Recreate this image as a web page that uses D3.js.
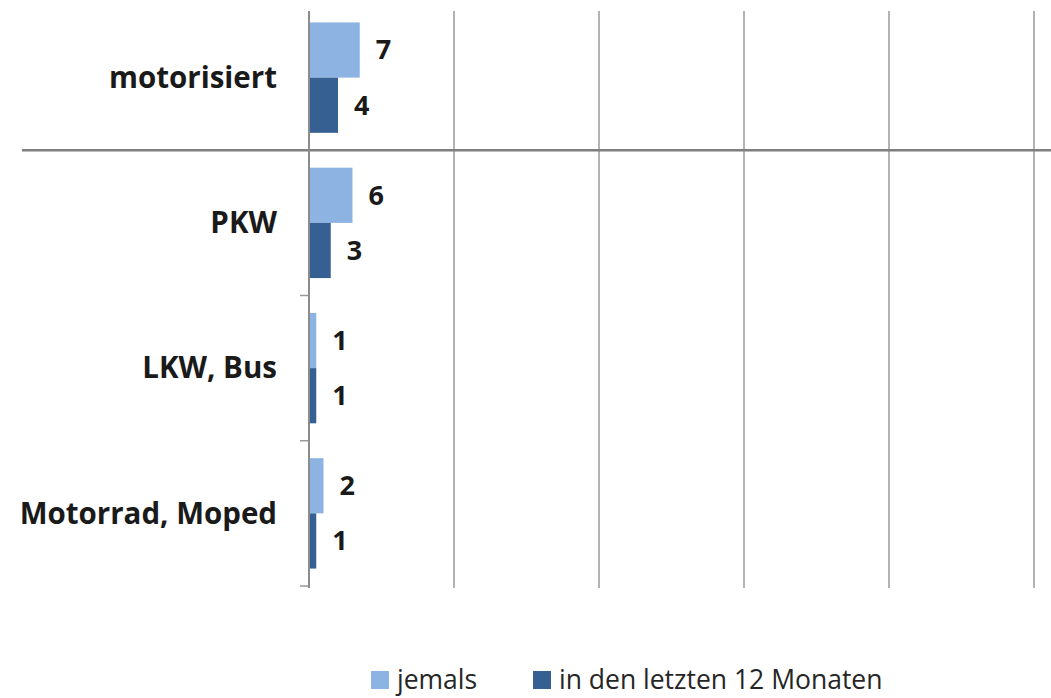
<!DOCTYPE html>
<html>
<head>
<meta charset="utf-8">
<script src="https://cdn.jsdelivr.net/npm/d3@7"></script>
<style>
  body { margin: 0; background: #fff; }
  svg { display: block; font-family: "Open Sans", sans-serif; }
  .cat { font-weight: bold; font-size: 29.5px; fill: #1a1a1a; }
  .value { font-weight: bold; font-size: 27px; fill: #1a1a1a; }
  .legend text { font-size: 26.5px; fill: #262626; }
</style>
</head>
<body>
<svg class="chart"></svg>
<script>
var Width = 1051,
    Height = 698;

// data
var categories = ["motorisiert", "PKW", "LKW, Bus", "Motorrad, Moped"];
var seriesNames = ["jemals", "in den letzten 12 Monaten"];
var jemals = [7, 6, 1, 2];
var letzte12 = [4, 3, 1, 1];
var gridTicks = [20, 40, 60, 80, 100];

var colors = ["#8db3e2", "#376092"];

var chart = d3.select(".chart")
    .attr("width", Width)
    .attr("height", Height);

// x scale (percent), y scale (categories)
var x = d3.scaleLinear()
    .domain([0, 100])
    .range([309, 1034]);

var y = d3.scaleBand()
    .domain(categories)
    .range([5, 586])
    .paddingInner(0.24)
    .paddingOuter(0.12);

var y1 = d3.scaleBand()
    .domain(seriesNames)
    .range([0, y.bandwidth()]);

// gridlines
chart.append("g")
    .selectAll("line")
    .data(gridTicks)
    .enter().append("line")
    .attr("x1", d => x(d))
    .attr("x2", d => x(d))
    .attr("y1", 11)
    .attr("y2", 588)
    .attr("stroke", "#b3b3b3")
    .attr("stroke-width", 2);

// category boundaries (tick marks on axis)
var step = y.step();
var bounds = categories.map((c, i) => y(c) - y.paddingInner() * step / 2 + step);

chart.append("g")
    .selectAll("line")
    .data(bounds.slice(1))
    .enter().append("line")
    .attr("x1", x(0) - 9)
    .attr("x2", x(0))
    .attr("y1", d => d)
    .attr("y2", d => d)
    .attr("stroke", "#999")
    .attr("stroke-width", 1.5);

// separator below "motorisiert"
chart.append("line")
    .attr("x1", 22)
    .attr("x2", Width)
    .attr("y1", bounds[0])
    .attr("y2", bounds[0])
    .attr("stroke", "#7f7f7f")
    .attr("stroke-width", 2.5);

// bars
var rows = categories.map((c, i) => ({cat: c, vals: [jemals[i], letzte12[i]]}));

var groups = chart.selectAll("g.grp")
    .data(rows)
    .enter().append("g")
    .attr("class", "grp")
    .attr("transform", d => "translate(0," + y(d.cat) + ")");

var bars = groups.selectAll("g.bar")
    .data(d => d.vals.map((v, j) => ({name: seriesNames[j], v: v, j: j})))
    .enter().append("g")
    .attr("class", "bar");

bars.append("rect")
    .attr("x", x(0))
    .attr("y", d => y1(d.name))
    .attr("width", d => x(d.v) - x(0))
    .attr("height", y1.bandwidth())
    .attr("fill", d => colors[d.j]);

bars.append("text")
    .attr("class", "value")
    .attr("x", d => x(d.v) + 16)
    .attr("y", d => y1(d.name) + y1.bandwidth() / 2)
    .attr("dy", ".35em")
    .text(d => d.v);

// category labels
groups.append("text")
    .attr("class", "cat")
    .attr("x", 277)
    .attr("y", y.bandwidth() / 2)
    .attr("dy", ".35em")
    .attr("text-anchor", "end")
    .text(d => d.cat);

// y axis line
chart.append("line")
    .attr("x1", x(0))
    .attr("x2", x(0))
    .attr("y1", 11)
    .attr("y2", 588)
    .attr("stroke", "#8c8c8c")
    .attr("stroke-width", 2);

// legend
var legend = chart.append("g").attr("class", "legend");
var legendX = [371, 533];

var items = legend.selectAll("g")
    .data(seriesNames)
    .enter().append("g")
    .attr("transform", (d, i) => "translate(" + legendX[i] + ",671)");

items.append("rect")
    .attr("width", 18)
    .attr("height", 18)
    .attr("fill", (d, i) => colors[i]);

items.append("text")
    .attr("x", 26)
    .attr("y", 9)
    .attr("dy", ".35em")
    .text(d => d);
</script>
</body>
</html>
